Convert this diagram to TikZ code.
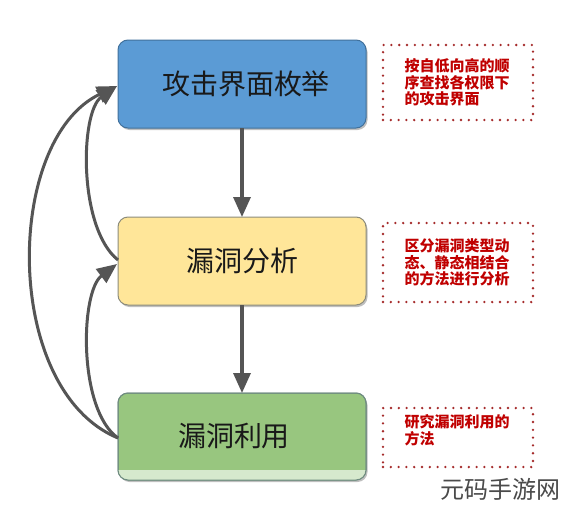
\documentclass[tikz,border=0pt]{standalone}
\usepackage{fontspec}
\newfontfamily\cjk{Noto Sans CJK SC}
\usetikzlibrary{arrows.meta,shadows}
\definecolor{bluefill}{HTML}{5B9BD5}
\definecolor{blueline}{HTML}{41719C}
\definecolor{yellowfill}{HTML}{FFE699}
\definecolor{yellowline}{HTML}{8C8C7C}
\definecolor{greenfill}{HTML}{98C67F}
\definecolor{greenline}{HTML}{6F8C80}
\definecolor{greenlight}{HTML}{D6E9CD}
\definecolor{arrowgray}{HTML}{555555}
\definecolor{calloutred}{HTML}{C00000}
\definecolor{dotred}{HTML}{A52A2A}
\definecolor{marktext}{HTML}{4A4A4A}
\tikzset{
  mainbox/.style={draw, line width=1pt, rounded corners=10pt, minimum width=248pt,
    minimum height=88pt, inner sep=0pt, outer sep=0pt,
    font=\cjk\fontsize{28}{30}\selectfont, text=black!90,
    drop shadow={shadow xshift=1.5pt, shadow yshift=-2pt, opacity=0.25, fill=black}},
  callout/.style={draw=dotred, line width=2.6pt, dash pattern=on 0pt off 7.8pt, line cap=round,
    minimum width=150pt, inner sep=0pt, text width=107pt, align=left,
    font=\cjk\bfseries\fontsize{15}{16.5}\selectfont, text=calloutred},
  flow/.style={draw=arrowgray, line width=3.4pt, -{Triangle[length=20pt,width=17pt]}},
  curveflow/.style={flow, line width=3pt},
}
\begin{document}
\begin{tikzpicture}[x=1pt,y=-1pt]
\useasboundingbox (0,0) rectangle (566,509);
\fill[white] (0,0) rectangle (566,509);

\node[mainbox, draw=blueline, fill=bluefill] (b1) at (242,84) {\hspace{8pt}攻击界面枚举};
\node[mainbox, draw=yellowline, fill=yellowfill] (b2) at (242,261) {漏洞分析};
\node[mainbox, draw=greenline, fill=greenfill, minimum height=87pt] (b3) at (242,436.5) {\raisebox{-2pt}{漏洞利用\hspace{16pt}}};
\begin{scope}
  \clip[rounded corners=10pt] (b3.south west) rectangle (b3.north east);
  \fill[greenlight] (100,470) rectangle (380,490);
\end{scope}
\draw[greenline, line width=1pt, rounded corners=10pt] (b3.south west) rectangle (b3.north east);

\node[callout, minimum height=75pt] (c1) at (458,82.5) {按自低向高的顺\\序查找各权限下\\的攻击界面};
\node[callout, minimum height=79pt] (c2) at (458,262.5) {区分漏洞类型动\\态、静态相结合\\的方法进行分析};
\node[callout, minimum height=59pt] (c3) at (458,437.5) {研究漏洞利用的\\方法\\\mbox{}};

\draw[flow] (b1.south) -- (b2.north);
\draw[flow] (b2.south) -- (b3.north);

\coordinate (t1) at (117,86);
\coordinate (t2) at (117,264);
\coordinate (s2) at (118,260);
\coordinate (s3) at (118,438);
\draw[curveflow] (s2) .. controls (78,228) and (80,112) .. (t1);
\draw[curveflow] (s3) .. controls (2,390) and (4,140) .. (t1);
\draw[curveflow] (s3) .. controls (78,410) and (80,292) .. (t2);

\node[font=\cjk\fontsize{24}{26}\selectfont, text=marktext, anchor=east] (wm) at (564,489) {元码手游网};
\end{tikzpicture}
\end{document}
